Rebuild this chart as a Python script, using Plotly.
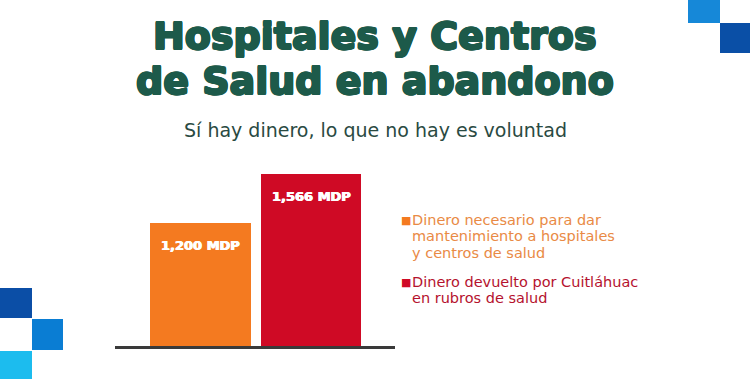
import plotly.graph_objects as go

categories = ["Mantenimiento", "Devuelto"]
values = [1200, 1566]
bar_labels = ["1,200 MDP", "1,566 MDP"]
legend_labels = [
    "Dinero necesario para dar<br>mantenimiento a hospitales<br>y centros de salud",
    "Dinero devuelto por Cuitláhuac<br>en rubros de salud",
]
bar_colors = ["#f47a20", "#cf0a25"]
legend_text_colors = ["#e98a45", "#b5122e"]

W, H = 750, 379

def py(p):
    return 1 - p / H

def px(p):
    return p / W

fig = go.Figure()
fig.add_trace(go.Bar(
    x=categories, y=values, marker=dict(color=bar_colors, line=dict(width=0)),
    width=0.91, hoverinfo="skip",
))

annotations = []
for c, v, t in zip(categories, values, bar_labels):
    annotations.append(dict(
        x=c, y=v, xref="x", yref="y", text=t, showarrow=False,
        yanchor="top", yshift=-13,
        font=dict(family="DejaVu Sans", size=13, color="white", weight="bold",
                  shadow="0.5px 0 0 #ffffff, -0.5px 0 0 #ffffff"),
    ))

# titles
G = "#1d5a4a"
thick = ", ".join(f"{dx}px {dy}px 0 {G}" for dx, dy in
                  [(1, 0), (-1, 0), (0, 1), (0, -1), (0.7, 0.7), (-0.7, 0.7), (0.7, -0.7), (-0.7, -0.7)])
TF = dict(family="DejaVu Sans", size=38, color=G, weight="bold", shadow=thick)
annotations.append(dict(x=0.5, y=py(12), xref="paper", yref="paper",
    text="Hospitales y Centros", showarrow=False, yanchor="top", xanchor="center", font=TF))
annotations.append(dict(x=0.5, y=py(57), xref="paper", yref="paper",
    text="de Salud en abandono", showarrow=False, yanchor="top", xanchor="center", font=TF))
annotations.append(dict(x=0.5, y=py(117), xref="paper", yref="paper",
    text="Sí hay dinero, lo que no hay es voluntad", showarrow=False, yanchor="top", xanchor="center",
    font=dict(family="DejaVu Sans", size=19, color="#2a4a42")))

# legend (manual)
legend_tops = [210, 272]
line_step = 16.3
for lab, col, bcol, top in zip(legend_labels, legend_text_colors, bar_colors, legend_tops):
    annotations.append(dict(x=px(399), y=py(top + 2), xref="paper", yref="paper",
        text="■", showarrow=False, xanchor="left", yanchor="top",
        font=dict(family="DejaVu Sans", size=11, color=bcol)))
    for i, line in enumerate(lab.split("<br>")):
        annotations.append(dict(x=px(410), y=py(top + i * line_step), xref="paper", yref="paper",
            text=line, showarrow=False, xanchor="left", yanchor="top", align="left",
            font=dict(family="DejaVu Sans", size=14.5, color=col)))

shapes = []
def sq(x0, y0, x1, y1, color):
    shapes.append(dict(type="rect", xref="paper", yref="paper",
        x0=px(x0), x1=px(x1), y0=py(y1), y1=py(y0),
        fillcolor=color, line=dict(width=0), layer="below"))

sq(0, 288, 32, 318, "#0b4ea6")
sq(32, 319, 63, 350, "#0a7dd3")
sq(0, 351, 32, 379, "#1cbcee")
sq(688, 0, 720, 23, "#1688d8")
sq(720, 23, 750, 53, "#0a4fa6")

fig.update_layout(
    width=W, height=H,
    margin=dict(l=0, r=0, t=0, b=0),
    paper_bgcolor="white", plot_bgcolor="rgba(0,0,0,0)",
    showlegend=False,
    annotations=annotations, shapes=shapes,
    bargap=0,
    xaxis=dict(domain=[px(115), px(395)], range=[-0.774, 1.76],
               showticklabels=False, ticks="", showgrid=False, zeroline=False,
               showline=True, linecolor="#3a3a3a", linewidth=3, fixedrange=True),
    yaxis=dict(domain=[py(346), py(160)], range=[289, 1671],
               showticklabels=False, ticks="", showgrid=False, zeroline=False,
               showline=False, fixedrange=True),
)

fig.write_html("out.html", config={"displayModeBar": False},
               post_script="document.body.style.margin='0';document.body.style.overflow='hidden';")
